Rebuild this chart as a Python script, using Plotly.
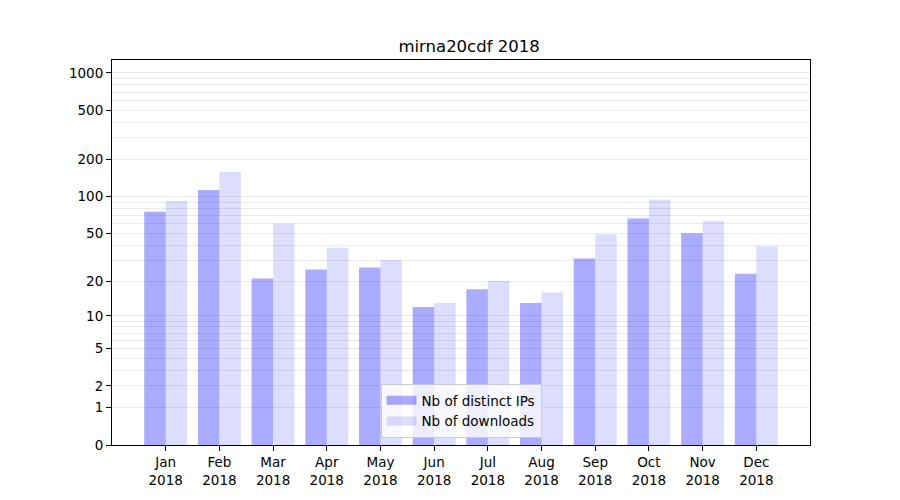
import math
import plotly.graph_objects as go

# monthly stats
months = ["Jan", "Feb", "Mar", "Apr", "May", "Jun",
          "Jul", "Aug", "Sep", "Oct", "Nov", "Dec"]
year = "2018"
distinct_ips = [75, 113, 21, 25, 26, 12, 17, 13, 31, 66, 50, 23]
downloads = [92, 159, 60, 38, 30, 13, 20, 16, 49, 94, 63, 39]

# y axis shows log10(1 + n), labels are n
y_ticks = [0, 1, 2, 5, 10, 20, 50, 100, 200, 500, 1000]
y_decades = [1, 10, 100, 1000]
y_minor = [3, 4, 6, 7, 8, 9, 30, 40, 60, 70, 80, 90,
           300, 400, 600, 700, 800, 900]
y_top = 1273

FONT = "DejaVu Sans"
IP_COLOR = "rgba(0,0,255,0.33)"
DL_COLOR = "rgba(0,0,255,0.135)"
PAGE_OFFSET = 8  # body margin of the html page

x_pos = list(range(len(months)))
x_labels = [f"{m}<br>{year}" for m in months]

fig = go.Figure()
fig.add_trace(go.Bar(
    x=x_pos, y=distinct_ips, base=1,
    width=0.4, offset=-0.4,
    marker=dict(color=IP_COLOR, line=dict(width=0)),
    name="Nb of distinct IPs", showlegend=False,
))
fig.add_trace(go.Bar(
    x=x_pos, y=downloads, base=1,
    width=0.4, offset=0,
    marker=dict(color=DL_COLOR, line=dict(width=0)),
    name="Nb of downloads", showlegend=False,
))
# legend entries drawn as wide patches, like matplotlib
for name, color in [("Nb of distinct IPs", IP_COLOR), ("Nb of downloads", DL_COLOR)]:
    fig.add_trace(go.Scatter(
        x=[None], y=[None], mode="lines",
        line=dict(color=color, width=9), name=name,
    ))

yrange = [0, math.log10(1 + y_top)]

fig.update_layout(
    width=900, height=500,
    barmode="overlay",
    plot_bgcolor="white", paper_bgcolor="white",
    margin=dict(l=112 - PAGE_OFFSET, r=90 + PAGE_OFFSET,
                t=60 - PAGE_OFFSET, b=55 + PAGE_OFFSET),
    font=dict(family=FONT, size=13.5, color="black"),
    title=dict(text="mirna20cdf 2018", x=0.5123, xanchor="center",
               y=1 - (46 - PAGE_OFFSET) / 500, yanchor="middle", yref="container",
               font=dict(size=16.5, family=FONT, color="black")),
    xaxis=dict(
        tickmode="array", tickvals=x_pos, ticktext=x_labels,
        range=[-1, 12], showgrid=False, zeroline=False,
        showline=True, linecolor="black", linewidth=1, mirror=True,
        ticks="outside", ticklen=5, tickcolor="black",
    ),
    yaxis=dict(
        type="log", range=yrange,
        tickmode="array", tickvals=[1 + v for v in y_ticks],
        ticktext=[str(v) for v in y_ticks],
        showgrid=True, gridcolor="#ebebeb", gridwidth=1,
        minor=dict(tickmode="array", tickvals=[1 + v for v in y_minor],
                   showgrid=True, gridcolor="#ebebeb", gridwidth=1,
                   ticks=""),
        zeroline=False,
        showline=True, linecolor="black", linewidth=1, mirror=True,
        ticks="outside", ticklen=5, tickcolor="black",
    ),
    yaxis2=dict(
        type="log", range=yrange, overlaying="y",
        tickmode="array", tickvals=[1 + v for v in y_decades],
        showticklabels=False, ticks="",
        showgrid=True, gridcolor="#c4c4c4", gridwidth=1,
        zeroline=False, showline=False,
    ),
    legend=dict(
        x=0.5, xanchor="center", y=0.018, yanchor="bottom",
        bgcolor="rgba(255,255,255,0.8)", bordercolor="#cccccc", borderwidth=1,
        font=dict(size=13.5, family=FONT),
        traceorder="normal", itemwidth=30, tracegroupgap=0,
    ),
)

fig.write_html("out.html")
